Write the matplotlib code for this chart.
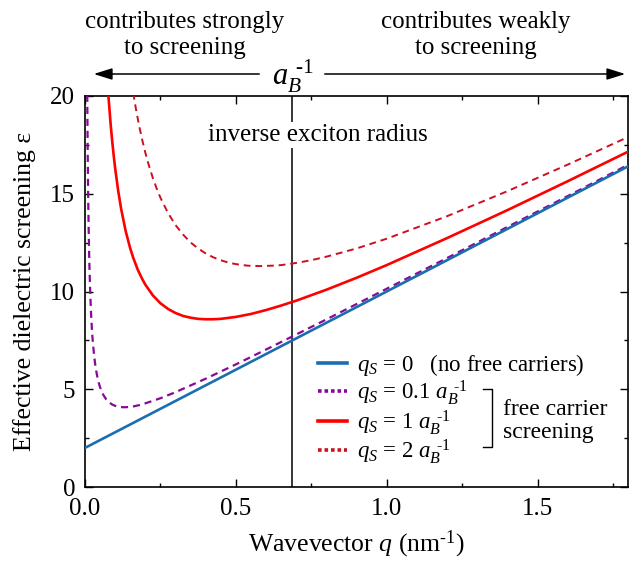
import matplotlib
matplotlib.use('Agg')
import matplotlib.pyplot as plt
from matplotlib.lines import Line2D
from matplotlib.patches import FancyArrowPatch

plt.rcParams['font.family'] = 'Liberation Serif'
plt.rcParams['mathtext.fontset'] = 'custom'
plt.rcParams['mathtext.rm'] = 'Liberation Serif'
plt.rcParams['mathtext.it'] = 'Liberation Serif:italic'
plt.rcParams['font.size'] = 18

# values
q_free = [0.0, 1.8]
eps_free = [2.0, 16.4]

q_01 = [0.0075, 0.008, 0.0085, 0.009, 0.0095, 0.01, 0.011, 0.012, 0.0135, 0.015,
        0.0175, 0.02, 0.0225, 0.025, 0.03, 0.035, 0.04, 0.045, 0.05, 0.06, 0.07,
        0.08, 0.09, 0.1, 0.115, 0.13, 0.145, 0.16, 0.18, 0.2, 0.25, 0.3, 0.4, 0.5,
        0.6, 0.8, 1.0, 1.2, 1.4, 1.6, 1.8]
eps_01 = [20.06, 18.94, 17.95, 17.07, 16.29, 15.58, 14.36, 13.35, 12.11, 11.12,
          9.85, 8.91, 8.18, 7.60, 6.74, 6.14, 5.70, 5.36, 5.10, 4.73, 4.49,
          4.33, 4.22, 4.15, 4.09, 4.08, 4.09, 4.12, 4.19, 4.28, 4.54, 4.85, 5.54, 6.27,
          7.03, 8.57, 10.14, 11.71, 13.30, 14.88, 16.48]

q_1 = [0.078, 0.085, 0.09, 0.095, 0.1, 0.11, 0.12, 0.135, 0.15, 0.16, 0.175, 0.19,
       0.2, 0.225, 0.25, 0.275, 0.3, 0.325, 0.35, 0.375, 0.4, 0.425, 0.45, 0.5,
       0.55, 0.6, 0.65, 0.7, 0.8, 0.9, 1.0, 1.2, 1.4, 1.6, 1.8]
eps_1 = [19.93, 18.56, 17.72, 16.97, 16.30, 15.15, 14.21, 13.08, 12.20, 11.72, 11.11,
         10.63, 10.35, 9.80, 9.40, 9.11, 8.90, 8.75, 8.66, 8.60, 8.58, 8.58, 8.60,
         8.70, 8.85, 9.05, 9.28, 9.53, 10.09, 10.70, 11.35, 12.73, 14.16, 15.64, 17.15]

q_2 = [0.16, 0.165, 0.17, 0.18, 0.19, 0.2, 0.21, 0.225, 0.24, 0.25, 0.275, 0.3,
       0.325, 0.35, 0.375, 0.4, 0.425, 0.45, 0.475, 0.5, 0.54, 0.58, 0.62, 0.65,
       0.7, 0.75, 0.8, 0.9, 1.0, 1.2, 1.4, 1.6, 1.8]
eps_2 = [20.16, 19.68, 19.24, 18.44, 17.73, 17.10, 16.54, 15.80, 15.17, 14.80, 14.02,
         13.40, 12.91, 12.51, 12.20, 11.95, 11.75, 11.60, 11.48, 11.40, 11.32, 11.30,
         11.32, 11.35, 11.46, 11.60, 11.78, 12.20, 12.70, 13.85, 15.13, 16.49, 17.90]

q_exciton = 0.685

blue = '#1a6eb0'
purple = '#870a96'
red = '#ff0000'
darkred = '#cc1020'

inv_ab = r'$a_B^{\hspace{0.45}\text{-}\mathit{1}}$'

fig = plt.figure(figsize=(6.29, 5.62), dpi=100)
ax = fig.add_axes([85/629, 1 - 487/562, 543/629, 391/562])

ax.plot(q_free, eps_free, color=blue, lw=1.9, zorder=4)
ax.plot(q_01, eps_01, color=purple, lw=1.6, dashes=(3.2, 2.2), zorder=3)
ax.plot(q_1, eps_1, color=red, lw=1.9, zorder=3)
ax.plot(q_2, eps_2, color=darkred, lw=1.4, dashes=(3.5, 2.5), zorder=3)

ax.axvline(q_exciton, color='k', lw=1.1, zorder=2)
ax.text(q_exciton + 0.087, 18.0, 'inverse exciton radius', ha='center', va='center',
        fontsize=18, zorder=5,
        bbox=dict(facecolor='white', edgecolor='none', pad=1.5))

ax.set_xlim(0, 1.8)
ax.set_ylim(0, 20)
ax.set_xticks([0, 0.5, 1.0, 1.5])
ax.set_xticklabels(['0.0', '0.5', '1.0', '1.5'])
ax.set_xticks([0.25, 0.75, 1.25, 1.75], minor=True)
ax.set_yticks([0, 5, 10, 15, 20])
ax.set_yticks([2.5, 7.5, 12.5, 17.5], minor=True)
ax.tick_params(which='both', direction='in', top=True, right=True, width=1.0)
ax.tick_params(which='major', length=5.5, pad=8)
ax.tick_params(axis='y', which='major', pad=7)
ax.tick_params(which='minor', length=3.2)
for s in ax.spines.values():
    s.set_linewidth(1.2)

ax.set_xlabel(r'Wavevector $q$ (nm$^{\text{-}1}$)', labelpad=6, fontsize=18.5)
ax.set_ylabel('Effective dielectric screening ε', labelpad=10, fontsize=18.5)

handles = [Line2D([], [], color=blue, lw=2.6),
           Line2D([], [], color=purple, lw=2.6, ls=(0, (1, 0.8))),
           Line2D([], [], color=red, lw=2.6),
           Line2D([], [], color=darkred, lw=2.6, ls=(0, (1, 0.8)))]
labels = [r'$q_S$ = 0   (no free carriers)',
          r'$q_S$ = 0.1 ' + inv_ab,
          r'$q_S$ = 1 ' + inv_ab,
          r'$q_S$ = 2 ' + inv_ab]
leg = ax.legend(handles, labels, loc='upper left', frameon=False, fontsize=16.5,
                handlelength=1.25, handletextpad=0.45, labelspacing=0.02,
                borderpad=0, borderaxespad=0)
leg.set_bbox_to_anchor((318/629, 1 - 352/562), transform=fig.transFigure)

# bracket for free carrier screening
fig.add_artist(Line2D([483/629, 492/629, 492/629, 483/629],
                      [1 - 389/562, 1 - 389/562, 1 - 447/562, 1 - 447/562],
                      color='k', lw=1.0, transform=fig.transFigure))
fig.text(503/629, 1 - 421/562, 'free carrier\nscreening', ha='left', va='center',
         fontsize=17, linespacing=1.1)

# top annotations
fig.text(185/629, 1 - 35/562, 'contributes strongly\nto screening', ha='center',
         va='center', fontsize=18, linespacing=1.2)
fig.text(476/629, 1 - 35/562, 'contributes weakly\nto screening', ha='center',
         va='center', fontsize=18, linespacing=1.2)
fig.text(293/629, 1 - 76/562, inv_ab, ha='center', va='center', fontsize=22)
fig.add_artist(FancyArrowPatch(
    (262/629, 1 - 74/562), (91/629, 1 - 74/562), transform=fig.transFigure,
    arrowstyle='-|>,head_length=0.7,head_width=0.22', mutation_scale=16,
    color='k', lw=1.1))
fig.add_artist(FancyArrowPatch(
    (322/629, 1 - 74/562), (628/629, 1 - 74/562), transform=fig.transFigure,
    arrowstyle='-|>,head_length=0.7,head_width=0.22', mutation_scale=16,
    color='k', lw=1.1))

fig.savefig('out.png', dpi=100)
